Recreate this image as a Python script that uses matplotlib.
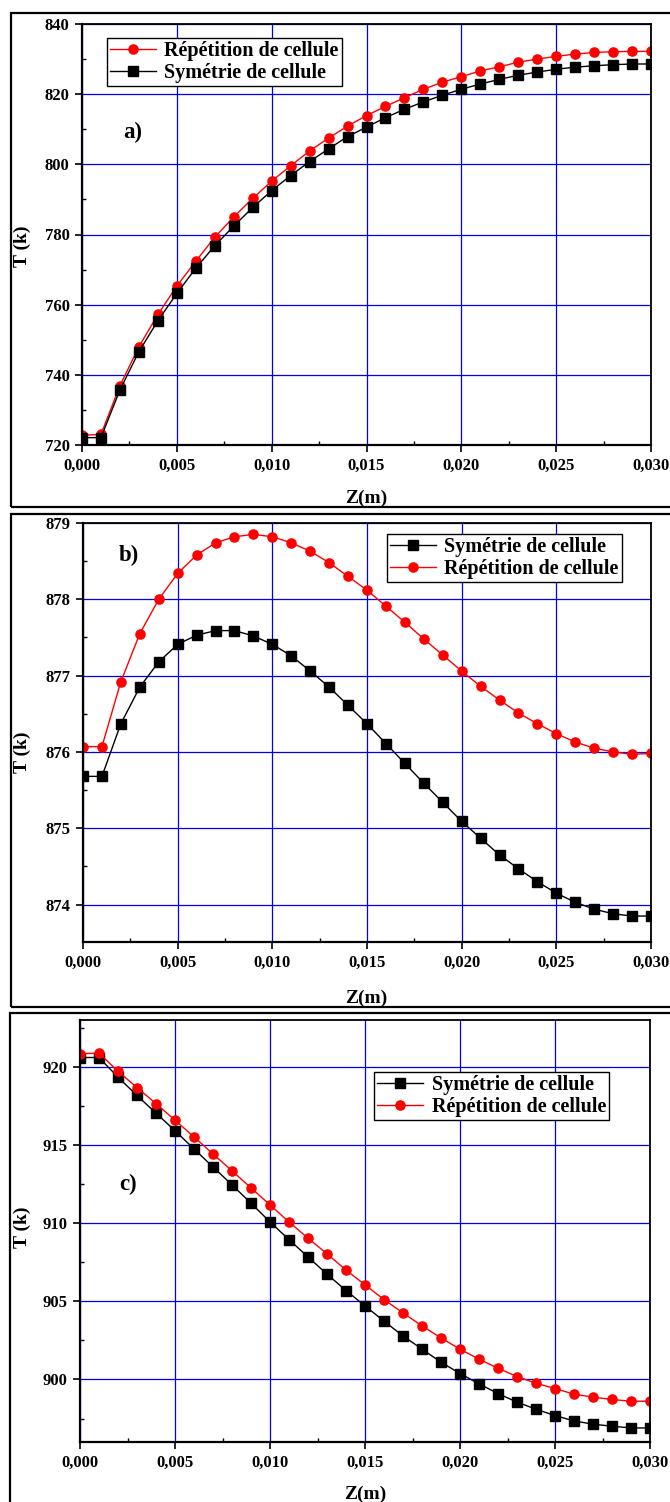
import matplotlib
matplotlib.use("Agg")
import matplotlib.pyplot as plt
from matplotlib.patches import Rectangle
from matplotlib.ticker import MultipleLocator, FuncFormatter

plt.rcParams['font.family'] = ['Liberation Serif', 'DejaVu Serif']
plt.rcParams['font.weight'] = 'bold'

# Axial position (m)
z = [i / 1000 for i in range(31)]

# a) temperature profiles (K)
a_rep = [722.8, 723.0, 736.9, 748.0, 757.2, 765.3, 772.4, 779.2, 785.0, 790.3,
         795.2, 799.6, 803.8, 807.5, 810.9, 813.9, 816.5, 819.0, 821.4, 823.4,
         825.0, 826.6, 827.8, 829.1, 830.0, 830.8, 831.4, 831.9, 832.1, 832.2, 832.2]
a_sym = [722.1, 722.1, 735.7, 746.6, 755.4, 763.2, 770.4, 776.8, 782.4, 787.7,
         792.5, 796.8, 800.8, 804.4, 807.9, 810.6, 813.3, 815.7, 817.8, 819.7,
         821.4, 822.9, 824.2, 825.4, 826.3, 827.1, 827.7, 828.1, 828.4, 828.6, 828.6]

# b) temperature profiles (K)
b_rep = [876.07, 876.07, 876.92, 877.55, 878.00, 878.34, 878.58, 878.74, 878.82, 878.85,
         878.82, 878.74, 878.63, 878.48, 878.30, 878.12, 877.91, 877.70, 877.48, 877.27,
         877.06, 876.86, 876.68, 876.51, 876.37, 876.24, 876.13, 876.05, 876.00, 875.97, 875.98]
b_sym = [875.68, 875.68, 876.37, 876.85, 877.18, 877.41, 877.53, 877.59, 877.59, 877.52,
         877.41, 877.26, 877.06, 876.85, 876.61, 876.37, 876.11, 875.85, 875.59, 875.34,
         875.09, 874.87, 874.65, 874.47, 874.30, 874.15, 874.03, 873.94, 873.88, 873.85, 873.85]

# c) temperature profiles (K)
c_rep = [920.85, 920.88, 919.72, 918.68, 917.65, 916.59, 915.52, 914.43, 913.35, 912.26,
         911.17, 910.08, 909.04, 908.04, 907.00, 906.06, 905.11, 904.26, 903.43, 902.66,
         901.94, 901.30, 900.72, 900.19, 899.76, 899.42, 899.06, 898.87, 898.72, 898.61, 898.61]
c_sym = [920.60, 920.60, 919.34, 918.17, 917.04, 915.92, 914.75, 913.60, 912.45, 911.28,
         910.08, 908.95, 907.84, 906.74, 905.69, 904.71, 903.73, 902.79, 901.94, 901.11,
         900.38, 899.72, 899.10, 898.55, 898.10, 897.69, 897.35, 897.14, 897.01, 896.90, 896.90]

lab_rep = "Répétition de cellule"
lab_sym = "Symétrie de cellule"

W, H = 670, 1502
fig = plt.figure(figsize=(W / 100, H / 100), dpi=100)


def px_axes(left, right, top, bottom):
    return fig.add_axes([left / W, 1 - bottom / H, (right - left) / W, (bottom - top) / H])


def frame(x0, y0, y1):
    fig.patches.append(Rectangle((x0 / W, 1 - y1 / H), (W + 20 - x0) / W, (y1 - y0) / H,
                                 transform=fig.transFigure, fill=False,
                                 edgecolor='black', linewidth=1.6, clip_on=False))


comma = FuncFormatter(lambda v, p: f"{v:.3f}".replace('.', ','))


def style(ax, ylim, ymaj):
    ax.set_xlim(0, 0.030)
    ax.set_ylim(*ylim)
    ax.xaxis.set_major_locator(MultipleLocator(0.005))
    ax.xaxis.set_minor_locator(MultipleLocator(0.0025))
    ax.yaxis.set_major_locator(MultipleLocator(ymaj))
    ax.yaxis.set_minor_locator(MultipleLocator(ymaj / 2))
    ax.xaxis.set_major_formatter(comma)
    ax.yaxis.set_major_formatter(FuncFormatter(lambda v, p: f"{v:.0f}"))
    ax.grid(True, which='major', color='#0000ee', linewidth=0.9)
    ax.set_axisbelow(True)
    ax.tick_params(which='major', direction='out', length=5, width=1.2,
                   labelsize=12, pad=4)
    ax.tick_params(which='minor', direction='in', length=3, width=1.0)
    ax.tick_params(axis='both', which='both', top=False, right=False)
    for lbl in ax.get_xticklabels() + ax.get_yticklabels():
        lbl.set_fontweight('bold')
    for s in ax.spines.values():
        s.set_linewidth(1.3)
    ax.spines['left'].set_linewidth(1.6)
    ax.spines['bottom'].set_linewidth(1.6)


def legend(ax, handles, anchor):
    leg = ax.legend(handles=handles, loc='upper left', bbox_to_anchor=anchor,
                    borderaxespad=0, fancybox=False, framealpha=1, edgecolor='black',
                    prop={'size': 14.5, 'weight': 'bold'}, handlelength=2.3,
                    handletextpad=0.4, borderpad=0.15, labelspacing=0.1)
    leg.get_frame().set_linewidth(1.0)


mk = dict(markersize=6.6, linewidth=1.0)

# Panel a
frame(11, 13, 507)
ax1 = px_axes(82, 651, 24, 445)
r1, = ax1.plot(z, a_rep, '-o', color='red', label=lab_rep, **mk)
s1, = ax1.plot(z, a_sym, '-s', color='black', label=lab_sym, **mk)
style(ax1, (720, 840), 20)
legend(ax1, [r1, s1], (0.044, 0.967))
ax1.text(0.0027, 809.2, "a)", fontsize=16.5, fontweight='bold', ha='center', va='center')
fig.text(22 / W, 1 - 246 / H, "T (k)", rotation=90, fontsize=14, fontweight='bold',
         ha='center', va='center')
fig.text(366 / W, 1 - 498 / H, "Z(m)", fontsize=14, fontweight='bold', ha='center', va='center')

# Panel b
frame(11, 514, 1007)
ax2 = px_axes(83, 651, 523, 942)
s2, = ax2.plot(z, b_sym, '-s', color='black', label=lab_sym, **mk)
r2, = ax2.plot(z, b_rep, '-o', color='red', label=lab_rep, **mk)
style(ax2, (873.51, 879.0), 1)
legend(ax2, [s2, r2], (0.535, 0.974))
ax2.text(0.00243, 878.58, "b)", fontsize=16.5, fontweight='bold', ha='center', va='center')
fig.text(22 / W, 1 - 752 / H, "T (k)", rotation=90, fontsize=14, fontweight='bold',
         ha='center', va='center')
fig.text(366 / W, 1 - 998 / H, "Z(m)", fontsize=14, fontweight='bold', ha='center', va='center')

# Panel c
frame(10, 1013, 1510)
ax3 = px_axes(80, 650, 1020, 1442)
s3, = ax3.plot(z, c_sym, '-s', color='black', label=lab_sym, **mk)
r3, = ax3.plot(z, c_rep, '-o', color='red', label=lab_rep, **mk)
style(ax3, (896.0, 923.0), 5)
legend(ax3, [s3, r3], (0.516, 0.877))
ax3.text(0.00253, 912.45, "c)", fontsize=16.5, fontweight='bold', ha='center', va='center')
fig.text(22 / W, 1 - 1227 / H, "T (k)", rotation=90, fontsize=14, fontweight='bold',
         ha='center', va='center')
fig.text(365 / W, 1 - 1494 / H, "Z(m)", fontsize=14, fontweight='bold', ha='center', va='center')

fig.savefig("out.png", dpi=100)
